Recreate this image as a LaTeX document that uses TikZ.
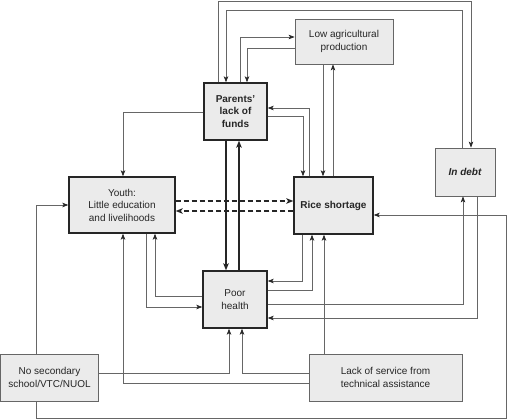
\documentclass[tikz,border=0pt]{standalone}
\usepackage{fontspec}
\setmainfont{Liberation Sans}
\usetikzlibrary{arrows.meta}
\begin{document}
\begin{tikzpicture}[x=1pt,y=-1pt,
  box/.style={draw=black!60,line width=0.8pt,fill=black!8,align=center,inner sep=0pt,
    font=\fontsize{10}{12.5}\selectfont,text=black!85},
  keybox/.style={box,draw=black!85,line width=1.4pt},
  arr/.style={draw=black!60,line width=0.7pt,-{Stealth[length=6pt,width=4.5pt,inset=1.5pt,black!85]}},
  thickarr/.style={draw=black!85,line width=1.4pt,-{Stealth[length=7pt,width=5.5pt,inset=1.8pt,black!85]}},
  dasharr/.style={draw=black!85,line width=1.4pt,dash pattern=on 5pt off 3pt,-{Stealth[length=7pt,width=5.5pt,inset=1.8pt,black!85]}}]
\useasboundingbox (0,0) rectangle (507,420);
% boxes
\node[box,minimum width=98pt,minimum height=45pt] (low) at (344,41.5) {Low agricultural\\production};
\node[keybox,minimum width=63pt,minimum height=57pt,font=\fontsize{10}{12.5}\selectfont\bfseries] (par) at (235.5,111.5) {Parents’\\lack of\\funds};
\node[keybox,minimum width=106pt,minimum height=56pt] (youth) at (122,205) {Youth:\\Little education\\and livelihoods};
\node[keybox,minimum width=79pt,minimum height=57pt,font=\fontsize{10}{12.5}\selectfont\bfseries] (rice) at (333.5,205.5) {Rice shortage};
\node[box,minimum width=60pt,minimum height=48pt,font=\fontsize{10}{12.5}\selectfont\bfseries\itshape] (debt) at (465,172) {In debt};
\node[keybox,minimum width=64pt,minimum height=57pt] (poor) at (235,299.5) {Poor\\health};
\node[box,minimum width=98pt,minimum height=47pt] (nosec) at (49.5,377.5) {No secondary\\school/VTC/NUOL};
\node[box,minimum width=153pt,minimum height=47pt] (lack) at (385.5,377.5) {Lack of service from\\technical assistance};
% helper coordinates
\foreach \v in {36,123,146,155,218,226,229,239,240,242,247,302,303,309,312,323,324,333,462,463,471,477,506}
  \coordinate (x\v) at (\v,0);
\foreach \v in {37,48,108,112,116,201,205,211,215,281,290,296,304,307,318,373,383}
  \coordinate (y\v) at (0,\v);
% connectors
\draw[arr] (par.north -| x218) -- (218,1.5) -- (471,1.5) -- (debt.north -| x471);
\draw[arr] (debt.north -| x462) -- (462,10) -- (226,10) -- (par.north -| x226);
\draw[arr] (par.north -| x240) -- (240,37) -- (low.west |- y37);
\draw[arr] (low.west |- y48) -- (247,48) -- (par.north -| x247);
\draw[arr] (low.south -| x323) -- (rice.north -| x323);
\draw[arr] (rice.north -| x333) -- (low.south -| x333);
\draw[arr] (par.east |- y116) -- (303,116) -- (rice.north -| x303);
\draw[arr] (rice.north -| x309) -- (309,108) -- (par.east |- y108);
\draw[arr] (par.west |- y112) -- (123,112) -- (youth.north -| x123);
\draw[thickarr] (par.south -| x226) -- (poor.north -| x226);
\draw[thickarr] (poor.north -| x239) -- (par.south -| x239);
\draw[dasharr] (youth.east |- y201) -- (rice.west |- y201);
\draw[dasharr] (rice.west |- y211) -- (youth.east |- y211);
\draw[arr] (youth.south -| x146) -- (146,307) -- (poor.west |- y307);
\draw[arr] (poor.west |- y296) -- (155,296) -- (youth.south -| x155);
\draw[arr] (lack.west |- y383) -- (123,383) -- (youth.south -| x123);
\draw[arr] (nosec.north -| x36) -- (36,205) -- (youth.west |- y205);
\draw[arr] (nosec.east |- y373) -- (229,373) -- (poor.south -| x229);
\draw[arr] (lack.west |- y373) -- (242,373) -- (poor.south -| x242);
\draw[arr] (nosec.south -| x36) -- (36,418) -- (506,418) -- (506,215) -- (rice.east |- y215);
\draw[arr] (lack.north -| x324) -- (rice.south -| x324);
\draw[arr] (rice.south -| x302) -- (302,281) -- (poor.east |- y281);
\draw[arr] (poor.east |- y290) -- (312,290) -- (rice.south -| x312);
\draw[arr] (poor.east |- y304) -- (463,304) -- (debt.south -| x463);
\draw[arr] (debt.south -| x477) -- (477,318) -- (poor.east |- y318);
\end{tikzpicture}
\end{document}
